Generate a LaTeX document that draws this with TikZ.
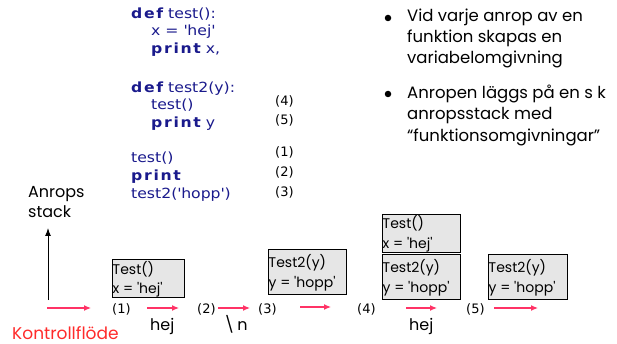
\documentclass[tikz,border=0pt]{standalone}
\usepackage{fontspec}
\usetikzlibrary{arrows.meta}
\setmainfont{Poppins}
\newfontfamily\codefont[FakeStretch=1.12]{DejaVu Sans}
\newfontfamily\kwfont[LetterSpace=12,FakeStretch=1.12]{DejaVu Sans Bold}
\newfontfamily\numfont{DejaVu Sans}
\newcommand{\q}{\textquotesingle}
\definecolor{codeblue}{HTML}{1A1A8C}
\definecolor{flowpink}{HTML}{FF3366}
\definecolor{flowred}{HTML}{FF2A2A}
\definecolor{boxgray}{HTML}{E6E6E6}
\begin{document}
\begin{tikzpicture}[x=1pt,y=-1pt,
  code/.style={anchor=base west,inner sep=0pt,text=codeblue,font=\codefont\fontsize{14}{17}\selectfont},
  num/.style={anchor=base west,inner sep=0pt,font=\numfont\fontsize{13}{16}\selectfont},
  bullettext/.style={anchor=north west,inner sep=0pt,align=left,font=\fontsize{16.5}{21.3}\selectfont},
  lbl/.style={anchor=base west,inner sep=0pt,font=\fontsize{16}{20}\selectfont},
  frame/.style={draw=black,fill=boxgray,line width=0.8pt,anchor=north west,inner sep=0pt,minimum width=#1},
  boxtext/.style={anchor=base west,inner sep=0pt,font=\fontsize{14}{18}\selectfont},
  flow/.style={draw=flowpink,line width=1.2pt,-{Latex[length=7pt,width=6pt]}},
  dot/.style={circle,fill=black,inner sep=0pt,minimum size=6.5pt}
]
\useasboundingbox (0,0) rectangle (617,344);

% code
\node[code] (c1) at (131,18.5) {{\kwfont def} test():};
\node[code] (c2) at (151,36) {x = \q hej\q};
\node[code] (c3) at (151,53.5) {{\kwfont print} x,};
\node[code] (c4) at (131,92.5) {{\kwfont def} test2(y):};
\node[code] (c5) at (151,110) {test()};
\node[code] (c6) at (151,127.5) {{\kwfont print} y};
\node[code] (c7) at (131,163) {test()};
\node[code] (c8) at (131,181) {{\kwfont print}};
\node[code] (c9) at (131,198.5) {test2(\q hopp\q)};
\node[num] (n4) at (275,106) {(4)};
\node[num] (n5) at (275,125) {(5)};
\node[num] (n1) at (275,157) {(1)};
\node[num] (n2) at (275,176.5) {(2)};
\node[num] (n3) at (275,196.5) {(3)};

% bullets
\node[dot] (b1) at (388,18) {};
\node[bullettext] (t1) at (407,8.5) {Vid varje anrop av en\\funktion skapas en\\variabelomgivning};
\node[dot] (b2) at (388,94) {};
\node[bullettext] (t2) at (407,85) {Anropen läggs på en s k\\anropsstack med\\“funktionsomgivningar”};

% axis
\node[lbl] (anrops) at (28,198) {Anrops};
\node[lbl] (stack) at (28,218) {stack};
\coordinate (ax0) at (48,300);
\coordinate (ax1) at (48,228);
\draw[line width=1pt,-{Latex[length=8pt,width=6pt]}] (ax0) -- (ax1);
\node[lbl,text=flowred,font=\fontsize{17}{20}\selectfont] (kf) at (12,339) {Kontrollflöde};

% flow arrows
\coordinate (f1a) at (47,308); \coordinate (f1b) at (91,308);
\coordinate (f2a) at (147,308); \coordinate (f2b) at (179,308);
\coordinate (f3a) at (218,308); \coordinate (f3b) at (250,308);
\coordinate (f4a) at (300,307); \coordinate (f4b) at (331,307);
\coordinate (f5a) at (406,308); \coordinate (f5b) at (437,308);
\coordinate (f6a) at (494,308); \coordinate (f6b) at (538,308);
\draw[flow] (f1a) -- (f1b);
\draw[flow] (f2a) -- (f2b);
\draw[flow] (f3a) -- (f3b);
\draw[flow] (f4a) -- (f4b);
\draw[flow] (f5a) -- (f5b);
\draw[flow] (f6a) -- (f6b);

\node[num] (s1) at (112,313) {(1)};
\node[num] (s2) at (197,313) {(2)};
\node[num] (s3) at (258,313) {(3)};
\node[num] (s4) at (357,313) {(4)};
\node[num] (s5) at (466,313) {(5)};
\node[lbl] (o1) at (150,330) {hej};
\node[lbl] (o2) at (224,330) {\textbackslash\,n};
\node[lbl] (o3) at (409,330) {hej};

% stack frames
\node[frame=72pt,minimum height=38pt] (fa) at (112,259) {};
\node[boxtext] at (112.5,274) {Test()};
\node[boxtext] at (112.5,293) {x = \q hej\q};
\node[frame=78pt,minimum height=45pt] (fb) at (268,249) {};
\node[boxtext] at (268.5,267) {Test2(y)};
\node[boxtext] at (268.5,287) {y = \q hopp\q};
\node[frame=78pt,minimum height=38pt] (fc) at (382,214) {};
\node[boxtext] at (382.5,229) {Test()};
\node[boxtext] at (382.5,248) {x = \q hej\q};
\node[frame=78pt,minimum height=45pt] (fd) at (382,254) {};
\node[boxtext] at (382.5,272) {Test2(y)};
\node[boxtext] at (382.5,292) {y = \q hopp\q};
\node[frame=79pt,minimum height=45pt] (fe) at (488,254) {};
\node[boxtext] at (488.5,272) {Test2(y)};
\node[boxtext] at (488.5,292) {y = \q hopp\q};
\end{tikzpicture}
\end{document}
